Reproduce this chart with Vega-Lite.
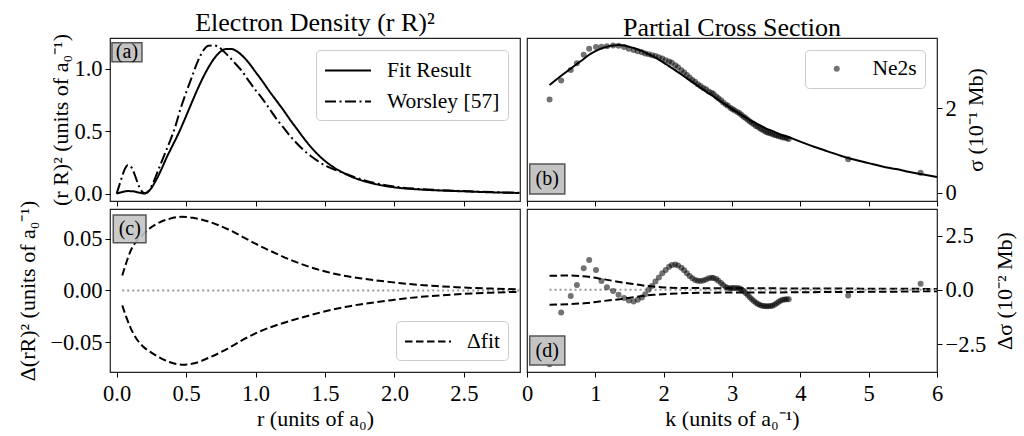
{
"$schema": "https://vega.github.io/schema/vega-lite/v6.json",
"padding": {"left": 16, "top": 9, "right": 5, "bottom": 0},
"background": "white",
"config": {
  "font": "Liberation Serif",
  "view": {"stroke": "#222222", "strokeWidth": 1.2},
  "axis": {"labelFont": "Liberation Serif", "titleFont": "Liberation Serif", "labelFontSize": 22.5, "titleFontSize": 22, "titleFontWeight": "normal", "labelColor": "black", "titleColor": "black", "tickColor": "black", "tickSize": 5, "tickWidth": 1, "domain": false, "grid": false, "labelPadding": 3, "labelFlush": false, "labelOverlap": false},
  "axisX": {"labelPadding": 5},
  "legend": {"labelFont": "Liberation Serif", "labelFontSize": 21.5, "labelColor": "black", "strokeColor": "#cccccc", "fillColor": "rgba(255,255,255,0.85)", "cornerRadius": 4, "padding": 8, "offset": 12, "symbolStrokeColor": "black", "symbolStrokeWidth": 2, "labelLimit": 300},
  "title": {"font": "Liberation Serif", "fontSize": 26, "fontWeight": "normal", "color": "black", "offset": -3},
  "text": {"font": "Liberation Serif"}
},
"datasets": {
  "dens": [
    {"r":0.00,"v":0.000,"s":"Fit Result"},{"r":0.04,"v":0.012,"s":"Fit Result"},{"r":0.08,"v":0.020,"s":"Fit Result"},{"r":0.12,"v":0.018,"s":"Fit Result"},{"r":0.16,"v":0.008,"s":"Fit Result"},{"r":0.20,"v":0.001,"s":"Fit Result"},{"r":0.24,"v":0.030,"s":"Fit Result"},{"r":0.28,"v":0.100,"s":"Fit Result"},{"r":0.32,"v":0.190,"s":"Fit Result"},{"r":0.36,"v":0.290,"s":"Fit Result"},{"r":0.40,"v":0.380,"s":"Fit Result"},{"r":0.44,"v":0.470,"s":"Fit Result"},{"r":0.48,"v":0.570,"s":"Fit Result"},{"r":0.52,"v":0.675,"s":"Fit Result"},{"r":0.56,"v":0.780,"s":"Fit Result"},{"r":0.60,"v":0.880,"s":"Fit Result"},{"r":0.65,"v":0.990,"s":"Fit Result"},{"r":0.70,"v":1.080,"s":"Fit Result"},{"r":0.75,"v":1.140,"s":"Fit Result"},{"r":0.78,"v":1.158,"s":"Fit Result"},{"r":0.82,"v":1.160,"s":"Fit Result"},{"r":0.86,"v":1.145,"s":"Fit Result"},{"r":0.90,"v":1.110,"s":"Fit Result"},{"r":0.95,"v":1.050,"s":"Fit Result"},{"r":1.00,"v":0.975,"s":"Fit Result"},{"r":1.05,"v":0.900,"s":"Fit Result"},{"r":1.10,"v":0.820,"s":"Fit Result"},{"r":1.15,"v":0.745,"s":"Fit Result"},{"r":1.20,"v":0.670,"s":"Fit Result"},{"r":1.25,"v":0.590,"s":"Fit Result"},{"r":1.30,"v":0.515,"s":"Fit Result"},{"r":1.35,"v":0.440,"s":"Fit Result"},{"r":1.40,"v":0.372,"s":"Fit Result"},{"r":1.45,"v":0.312,"s":"Fit Result"},{"r":1.50,"v":0.262,"s":"Fit Result"},{"r":1.55,"v":0.220,"s":"Fit Result"},{"r":1.60,"v":0.186,"s":"Fit Result"},{"r":1.65,"v":0.156,"s":"Fit Result"},{"r":1.70,"v":0.131,"s":"Fit Result"},{"r":1.78,"v":0.100,"s":"Fit Result"},{"r":1.90,"v":0.068,"s":"Fit Result"},{"r":2.00,"v":0.050,"s":"Fit Result"},{"r":2.14,"v":0.036,"s":"Fit Result"},{"r":2.30,"v":0.026,"s":"Fit Result"},{"r":2.50,"v":0.018,"s":"Fit Result"},{"r":2.70,"v":0.010,"s":"Fit Result"},{"r":2.90,"v":0.005,"s":"Fit Result"},
    {"r":0.00,"v":0.000,"s":"Worsley [57]"},{"r":0.02,"v":0.070,"s":"Worsley [57]"},{"r":0.04,"v":0.140,"s":"Worsley [57]"},{"r":0.06,"v":0.200,"s":"Worsley [57]"},{"r":0.08,"v":0.228,"s":"Worsley [57]"},{"r":0.10,"v":0.220,"s":"Worsley [57]"},{"r":0.12,"v":0.180,"s":"Worsley [57]"},{"r":0.14,"v":0.120,"s":"Worsley [57]"},{"r":0.16,"v":0.060,"s":"Worsley [57]"},{"r":0.18,"v":0.020,"s":"Worsley [57]"},{"r":0.20,"v":0.003,"s":"Worsley [57]"},{"r":0.22,"v":0.010,"s":"Worsley [57]"},{"r":0.26,"v":0.080,"s":"Worsley [57]"},{"r":0.30,"v":0.190,"s":"Worsley [57]"},{"r":0.34,"v":0.300,"s":"Worsley [57]"},{"r":0.38,"v":0.410,"s":"Worsley [57]"},{"r":0.42,"v":0.530,"s":"Worsley [57]"},{"r":0.46,"v":0.680,"s":"Worsley [57]"},{"r":0.50,"v":0.810,"s":"Worsley [57]"},{"r":0.54,"v":0.930,"s":"Worsley [57]"},{"r":0.58,"v":1.050,"s":"Worsley [57]"},{"r":0.62,"v":1.140,"s":"Worsley [57]"},{"r":0.66,"v":1.185,"s":"Worsley [57]"},{"r":0.70,"v":1.188,"s":"Worsley [57]"},{"r":0.74,"v":1.170,"s":"Worsley [57]"},{"r":0.78,"v":1.130,"s":"Worsley [57]"},{"r":0.82,"v":1.085,"s":"Worsley [57]"},{"r":0.86,"v":1.035,"s":"Worsley [57]"},{"r":0.90,"v":0.985,"s":"Worsley [57]"},{"r":0.95,"v":0.905,"s":"Worsley [57]"},{"r":1.00,"v":0.830,"s":"Worsley [57]"},{"r":1.05,"v":0.760,"s":"Worsley [57]"},{"r":1.10,"v":0.680,"s":"Worsley [57]"},{"r":1.15,"v":0.600,"s":"Worsley [57]"},{"r":1.20,"v":0.530,"s":"Worsley [57]"},{"r":1.25,"v":0.460,"s":"Worsley [57]"},{"r":1.30,"v":0.400,"s":"Worsley [57]"},{"r":1.35,"v":0.345,"s":"Worsley [57]"},{"r":1.40,"v":0.300,"s":"Worsley [57]"},{"r":1.45,"v":0.260,"s":"Worsley [57]"},{"r":1.50,"v":0.225,"s":"Worsley [57]"},{"r":1.55,"v":0.200,"s":"Worsley [57]"},{"r":1.60,"v":0.180,"s":"Worsley [57]"},{"r":1.65,"v":0.158,"s":"Worsley [57]"},{"r":1.70,"v":0.137,"s":"Worsley [57]"},{"r":1.78,"v":0.108,"s":"Worsley [57]"},{"r":1.90,"v":0.075,"s":"Worsley [57]"},{"r":2.00,"v":0.056,"s":"Worsley [57]"},{"r":2.14,"v":0.040,"s":"Worsley [57]"},{"r":2.30,"v":0.029,"s":"Worsley [57]"},{"r":2.50,"v":0.020,"s":"Worsley [57]"},{"r":2.70,"v":0.012,"s":"Worsley [57]"},{"r":2.90,"v":0.006,"s":"Worsley [57]"}
  ],
  "res": [
    {"r":0.04,"v":0.0144,"side":"u"},{"r":0.07,"v":0.027,"side":"u"},{"r":0.10,"v":0.038,"side":"u"},{"r":0.14,"v":0.047,"side":"u"},{"r":0.19,"v":0.054,"side":"u"},{"r":0.25,"v":0.061,"side":"u"},{"r":0.31,"v":0.0657,"side":"u"},{"r":0.38,"v":0.069,"side":"u"},{"r":0.47,"v":0.0710,"side":"u"},{"r":0.55,"v":0.070,"side":"u"},{"r":0.67,"v":0.066,"side":"u"},{"r":0.80,"v":0.059,"side":"u"},{"r":0.91,"v":0.0515,"side":"u"},{"r":1.03,"v":0.043,"side":"u"},{"r":1.15,"v":0.0355,"side":"u"},{"r":1.27,"v":0.0285,"side":"u"},{"r":1.39,"v":0.0226,"side":"u"},{"r":1.51,"v":0.018,"side":"u"},{"r":1.63,"v":0.0144,"side":"u"},{"r":1.75,"v":0.0118,"side":"u"},{"r":1.87,"v":0.0096,"side":"u"},{"r":2.00,"v":0.0077,"side":"u"},{"r":2.11,"v":0.0062,"side":"u"},{"r":2.30,"v":0.0043,"side":"u"},{"r":2.50,"v":0.0028,"side":"u"},{"r":2.70,"v":0.0018,"side":"u"},{"r":2.90,"v":0.0012,"side":"u"},
    {"r":0.04,"v":-0.0144,"side":"l"},{"r":0.07,"v":-0.026,"side":"l"},{"r":0.10,"v":-0.036,"side":"l"},{"r":0.14,"v":-0.046,"side":"l"},{"r":0.19,"v":-0.054,"side":"l"},{"r":0.25,"v":-0.060,"side":"l"},{"r":0.31,"v":-0.0648,"side":"l"},{"r":0.38,"v":-0.069,"side":"l"},{"r":0.47,"v":-0.0715,"side":"l"},{"r":0.55,"v":-0.0705,"side":"l"},{"r":0.67,"v":-0.0645,"side":"l"},{"r":0.80,"v":-0.056,"side":"l"},{"r":0.91,"v":-0.0475,"side":"l"},{"r":1.03,"v":-0.0395,"side":"l"},{"r":1.15,"v":-0.0335,"side":"l"},{"r":1.27,"v":-0.0285,"side":"l"},{"r":1.39,"v":-0.0240,"side":"l"},{"r":1.51,"v":-0.0198,"side":"l"},{"r":1.63,"v":-0.0163,"side":"l"},{"r":1.75,"v":-0.0135,"side":"l"},{"r":1.87,"v":-0.0112,"side":"l"},{"r":2.00,"v":-0.0090,"side":"l"},{"r":2.11,"v":-0.0072,"side":"l"},{"r":2.30,"v":-0.0050,"side":"l"},{"r":2.50,"v":-0.0033,"side":"l"},{"r":2.70,"v":-0.0021,"side":"l"},{"r":2.90,"v":-0.0013,"side":"l"}
  ],
  "fit": [
    {"k":0.33,"sigma":2.55},{"k":0.50,"sigma":2.77},{"k":0.64,"sigma":2.94},{"k":0.73,"sigma":3.05},{"k":0.83,"sigma":3.17},{"k":0.91,"sigma":3.27},{"k":1.01,"sigma":3.36},{"k":1.09,"sigma":3.42},{"k":1.17,"sigma":3.46},{"k":1.26,"sigma":3.49},{"k":1.34,"sigma":3.50},{"k":1.42,"sigma":3.49},{"k":1.49,"sigma":3.46},{"k":1.56,"sigma":3.43},{"k":1.68,"sigma":3.36},{"k":1.78,"sigma":3.28},{"k":1.88,"sigma":3.20},{"k":1.98,"sigma":3.10},{"k":2.08,"sigma":3.00},{"k":2.17,"sigma":2.90},{"k":2.26,"sigma":2.80},{"k":2.34,"sigma":2.71},{"k":2.42,"sigma":2.62},{"k":2.50,"sigma":2.53},{"k":2.58,"sigma":2.44},{"k":2.66,"sigma":2.35},{"k":2.73,"sigma":2.28},{"k":2.80,"sigma":2.20},{"k":2.87,"sigma":2.12},{"k":2.94,"sigma":2.05},{"k":3.01,"sigma":1.97},{"k":3.08,"sigma":1.90},{"k":3.14,"sigma":1.84},{"k":3.20,"sigma":1.78},{"k":3.26,"sigma":1.72},{"k":3.32,"sigma":1.67},{"k":3.38,"sigma":1.62},{"k":3.44,"sigma":1.57},{"k":3.50,"sigma":1.52},{"k":3.56,"sigma":1.48},{"k":3.62,"sigma":1.44},{"k":3.68,"sigma":1.40},{"k":3.74,"sigma":1.36},{"k":3.80,"sigma":1.33},{"k":4.00,"sigma":1.21},{"k":4.20,"sigma":1.09},{"k":4.40,"sigma":0.98},{"k":4.60,"sigma":0.87},{"k":4.80,"sigma":0.78},{"k":5.00,"sigma":0.70},{"k":5.20,"sigma":0.62},{"k":5.40,"sigma":0.56},{"k":5.60,"sigma":0.49},{"k":5.80,"sigma":0.43},{"k":6.00,"sigma":0.37}
  ],
  "ne": [
    {"k":0.33,"sigma":2.21,"delta":-3.43},{"k":0.50,"sigma":2.66,"delta":-1.05},{"k":0.64,"sigma":2.91,"delta":-0.28},{"k":0.73,"sigma":3.07,"delta":0.22},{"k":0.83,"sigma":3.27,"delta":1.00},{"k":0.91,"sigma":3.41,"delta":1.38},{"k":1.01,"sigma":3.45,"delta":0.92},{"k":1.09,"sigma":3.46,"delta":0.41},{"k":1.17,"sigma":3.47,"delta":0.12},{"k":1.26,"sigma":3.49,"delta":-0.05},{"k":1.34,"sigma":3.48,"delta":-0.23},{"k":1.42,"sigma":3.45,"delta":-0.38},{"k":1.49,"sigma":3.41,"delta":-0.49},{"k":1.56,"sigma":3.38,"delta":-0.54},{"k":1.62,"sigma":3.35,"delta":-0.46},{"k":1.68,"sigma":3.33,"delta":-0.35},{"k":1.73,"sigma":3.30,"delta":-0.20},{"k":1.78,"sigma":3.28,"delta":0.00},{"k":1.83,"sigma":3.26,"delta":0.18},{"k":1.88,"sigma":3.24,"delta":0.38},{"k":1.93,"sigma":3.21,"delta":0.57},{"k":1.98,"sigma":3.18,"delta":0.77},{"k":2.03,"sigma":3.14,"delta":0.92},{"k":2.08,"sigma":3.11,"delta":1.06},{"k":2.12,"sigma":3.08,"delta":1.15},{"k":2.17,"sigma":3.02,"delta":1.17},{"k":2.21,"sigma":2.97,"delta":1.12},{"k":2.26,"sigma":2.90,"delta":1.02},{"k":2.30,"sigma":2.85,"delta":0.90},{"k":2.34,"sigma":2.79,"delta":0.77},{"k":2.38,"sigma":2.73,"delta":0.64},{"k":2.42,"sigma":2.67,"delta":0.53},{"k":2.46,"sigma":2.63,"delta":0.46},{"k":2.50,"sigma":2.57,"delta":0.42},{"k":2.54,"sigma":2.53,"delta":0.41},{"k":2.58,"sigma":2.48,"delta":0.43},{"k":2.62,"sigma":2.45,"delta":0.48},{"k":2.66,"sigma":2.40,"delta":0.53},{"k":2.70,"sigma":2.37,"delta":0.56},{"k":2.73,"sigma":2.34,"delta":0.55},{"k":2.77,"sigma":2.28,"delta":0.50},{"k":2.80,"sigma":2.24,"delta":0.42},{"k":2.84,"sigma":2.19,"delta":0.32},{"k":2.87,"sigma":2.14,"delta":0.22},{"k":2.91,"sigma":2.09,"delta":0.13},{"k":2.94,"sigma":2.06,"delta":0.08},{"k":2.98,"sigma":2.01,"delta":0.07},{"k":3.01,"sigma":1.98,"delta":0.08},{"k":3.04,"sigma":1.95,"delta":0.09},{"k":3.08,"sigma":1.91,"delta":0.08},{"k":3.11,"sigma":1.88,"delta":0.06},{"k":3.14,"sigma":1.84,"delta":0.02},{"k":3.17,"sigma":1.80,"delta":-0.05},{"k":3.20,"sigma":1.77,"delta":-0.14},{"k":3.23,"sigma":1.73,"delta":-0.24},{"k":3.26,"sigma":1.69,"delta":-0.34},{"k":3.29,"sigma":1.66,"delta":-0.43},{"k":3.32,"sigma":1.62,"delta":-0.52},{"k":3.35,"sigma":1.58,"delta":-0.59},{"k":3.38,"sigma":1.56,"delta":-0.65},{"k":3.41,"sigma":1.52,"delta":-0.70},{"k":3.44,"sigma":1.50,"delta":-0.73},{"k":3.47,"sigma":1.47,"delta":-0.75},{"k":3.50,"sigma":1.44,"delta":-0.76},{"k":3.53,"sigma":1.42,"delta":-0.76},{"k":3.56,"sigma":1.41,"delta":-0.75},{"k":3.59,"sigma":1.39,"delta":-0.73},{"k":3.62,"sigma":1.37,"delta":-0.69},{"k":3.65,"sigma":1.36,"delta":-0.63},{"k":3.68,"sigma":1.34,"delta":-0.56},{"k":3.71,"sigma":1.33,"delta":-0.50},{"k":3.74,"sigma":1.31,"delta":-0.46},{"k":3.77,"sigma":1.31,"delta":-0.44},{"k":3.80,"sigma":1.29,"delta":-0.43},{"k":3.83,"sigma":1.27,"delta":-0.43},{"k":4.70,"sigma":0.79,"delta":-0.26},{"k":5.76,"sigma":0.47,"delta":0.28}
  ],
  "env": [
    {"k":0.33,"d":0.65,"side":"u"},{"k":0.60,"d":0.66,"side":"u"},{"k":0.80,"d":0.63,"side":"u"},{"k":0.95,"d":0.58,"side":"u"},{"k":1.10,"d":0.50,"side":"u"},{"k":1.25,"d":0.42,"side":"u"},{"k":1.40,"d":0.34,"side":"u"},{"k":1.55,"d":0.27,"side":"u"},{"k":1.70,"d":0.20,"side":"u"},{"k":1.85,"d":0.15,"side":"u"},{"k":2.00,"d":0.11,"side":"u"},{"k":2.20,"d":0.09,"side":"u"},{"k":2.50,"d":0.08,"side":"u"},{"k":3.00,"d":0.075,"side":"u"},{"k":3.50,"d":0.07,"side":"u"},{"k":4.00,"d":0.065,"side":"u"},{"k":4.50,"d":0.06,"side":"u"},{"k":5.00,"d":0.055,"side":"u"},{"k":5.50,"d":0.05,"side":"u"},{"k":6.00,"d":0.04,"side":"u"},
    {"k":0.33,"d":-0.69,"side":"l"},{"k":0.60,"d":-0.66,"side":"l"},{"k":0.87,"d":-0.61,"side":"l"},{"k":1.10,"d":-0.52,"side":"l"},{"k":1.36,"d":-0.43,"side":"l"},{"k":1.60,"d":-0.32,"side":"l"},{"k":1.85,"d":-0.23,"side":"l"},{"k":2.10,"d":-0.18,"side":"l"},{"k":2.34,"d":-0.15,"side":"l"},{"k":2.70,"d":-0.13,"side":"l"},{"k":3.07,"d":-0.12,"side":"l"},{"k":3.50,"d":-0.12,"side":"l"},{"k":4.00,"d":-0.11,"side":"l"},{"k":4.50,"d":-0.10,"side":"l"},{"k":5.00,"d":-0.09,"side":"l"},{"k":5.50,"d":-0.08,"side":"l"},{"k":6.00,"d":-0.06,"side":"l"}
  ]
},
"columns": 2,
"spacing": {"row": 8, "column": 7},
"bounds": "flush",
"resolve": {"scale": {"strokeDash": "independent", "shape": "independent"}},
"concat": [
  {
    "width": 410, "height": 163,
    "title": {"text": "Electron Density (r R)²"},
    "layer": [
      {"data": {"name": "dens"},
       "mark": {"type": "line", "color": "black", "strokeWidth": 2, "interpolate": "monotone"},
       "encoding": {
         "x": {"field": "r", "type": "quantitative", "scale": {"domain": [-0.048, 2.904], "nice": false, "zero": false}, "axis": {"values": [0, 0.5, 1, 1.5, 2, 2.5], "labels": false, "title": null}},
         "y": {"field": "v", "type": "quantitative", "scale": {"domain": [-0.0594, 1.2474], "nice": false, "zero": false}, "axis": {"values": [0, 0.5, 1], "format": ".1f", "title": "(r R)² (units of a₀⁻¹)", "titlePadding": 1}},
         "strokeDash": {"field": "s", "type": "nominal", "scale": {"domain": ["Fit Result", "Worsley [57]"], "range": [[1, 0], [11, 3.5, 2, 3.5]]}, "legend": {"title": null, "orient": "top-right", "symbolType": "M-1,0H3", "symbolSize": 529, "labelOffset": 38, "rowPadding": 8}}
       }},
      {"data": {"values": [{"tag": "(a)"}]},
       "mark": {"type": "rect", "fill": "#c4c4c4", "stroke": "#555555", "strokeWidth": 1.5},
       "encoding": {"x": {"datum": -0.034}, "x2": {"datum": 0.182}, "y": {"datum": 1.209}, "y2": {"datum": 1.056}}},
      {"data": {"values": [{"tag": "(a)"}]},
       "mark": {"type": "text", "fontSize": 20, "color": "black", "align": "center", "baseline": "middle"},
       "encoding": {"x": {"datum": 0.074}, "y": {"datum": 1.133}, "text": {"field": "tag"}}}
    ]
  },
  {
    "width": 410, "height": 163,
    "title": {"text": "Partial Cross Section"},
    "layer": [
      {"data": {"name": "ne"},
       "mark": {"type": "point", "filled": true, "size": 36, "color": "black", "opacity": 0.55},
       "encoding": {
         "x": {"field": "k", "type": "quantitative", "scale": {"domain": [0, 6], "nice": false, "zero": false}, "axis": {"values": [0, 1, 2, 3, 4, 5, 6], "labels": false, "title": null}},
         "y": {"field": "sigma", "type": "quantitative", "scale": {"domain": [-0.197, 3.666], "nice": false, "zero": false}, "axis": {"orient": "right", "values": [0, 2], "format": "d", "title": "σ (10⁻¹ Mb)", "titleAngle": 270, "titleBaseline": "top", "titlePadding": 9}},
         "shape": {"datum": "Ne2s", "type": "nominal", "scale": {"range": ["circle"]}, "legend": {"title": null, "orient": "top-right", "symbolSize": 36, "symbolFillColor": "black", "symbolOpacity": 0.55, "symbolStrokeWidth": 0, "symbolOffset": 13, "labelOffset": 25}}
       }},
      {"data": {"name": "fit"},
       "mark": {"type": "line", "color": "black", "strokeWidth": 2, "interpolate": "monotone"},
       "encoding": {"x": {"field": "k", "type": "quantitative"}, "y": {"field": "sigma", "type": "quantitative"}}},
      {"data": {"values": [{"tag": "(b)"}]},
       "mark": {"type": "rect", "fill": "#c4c4c4", "stroke": "#555555", "strokeWidth": 1.5},
       "encoding": {"x": {"datum": 0.04}, "x2": {"datum": 0.553}, "y": {"datum": 0.68}, "y2": {"datum": -0.031}}},
      {"data": {"values": [{"tag": "(b)"}]},
       "mark": {"type": "text", "fontSize": 20, "color": "black", "align": "center", "baseline": "middle"},
       "encoding": {"x": {"datum": 0.296}, "y": {"datum": 0.325}, "text": {"field": "tag"}}}
    ]
  },
  {
    "width": 410, "height": 163,
    "layer": [
      {"data": {"values": [{}]},
       "mark": {"type": "rule", "color": "#999999", "strokeWidth": 2, "strokeDash": [2, 3]},
       "encoding": {"x": {"datum": 0.04}, "x2": {"datum": 2.904}, "y": {"datum": 0}}},
      {"data": {"name": "res"},
       "mark": {"type": "line", "color": "black", "strokeWidth": 2, "interpolate": "monotone"},
       "encoding": {
         "x": {"field": "r", "type": "quantitative", "scale": {"domain": [-0.048, 2.904], "nice": false, "zero": false}, "axis": {"values": [0, 0.5, 1, 1.5, 2, 2.5], "format": ".1f", "title": "r (units of a₀)", "titlePadding": 4}},
         "y": {"field": "v", "type": "quantitative", "scale": {"domain": [-0.0786, 0.0785], "nice": false, "zero": false}, "axis": {"values": [-0.05, 0, 0.05], "format": ".2f", "title": "Δ(rR)² (units of a₀⁻¹)", "titlePadding": 10}},
         "detail": {"field": "side", "type": "nominal"},
         "strokeDash": {"datum": "Δfit", "type": "nominal", "scale": {"range": [[7.5, 3.5]]}, "legend": {"title": null, "orient": "bottom-right", "symbolType": "M-1,0H3", "symbolSize": 529, "labelOffset": 38}}
       }},
      {"data": {"values": [{"tag": "(c)"}]},
       "mark": {"type": "rect", "fill": "#c4c4c4", "fillOpacity": 0.9, "stroke": "#555555", "strokeWidth": 1.5},
       "encoding": {"x": {"datum": -0.0245}, "x2": {"datum": 0.211}, "y": {"datum": 0.0728}, "y2": {"datum": 0.0459}}},
      {"data": {"values": [{"tag": "(c)"}]},
       "mark": {"type": "text", "fontSize": 20, "color": "black", "align": "center", "baseline": "middle"},
       "encoding": {"x": {"datum": 0.094}, "y": {"datum": 0.0593}, "text": {"field": "tag"}}}
    ]
  },
  {
    "width": 410, "height": 163,
    "layer": [
      {"data": {"name": "env"},
       "mark": {"type": "line", "color": "black", "strokeWidth": 2, "strokeDash": [7.5, 3.5], "interpolate": "monotone"},
       "encoding": {
         "x": {"field": "k", "type": "quantitative", "scale": {"domain": [0, 6], "nice": false, "zero": false}, "axis": {"values": [0, 1, 2, 3, 4, 5, 6], "format": "d", "title": "k (units of a₀⁻¹)", "titlePadding": 4}},
         "y": {"field": "d", "type": "quantitative", "scale": {"domain": [-3.79, 3.73], "nice": false, "zero": false}, "axis": {"orient": "right", "values": [-2.5, 0, 2.5], "format": ".1f", "title": "Δσ (10⁻² Mb)", "titleAngle": 270, "titleBaseline": "top", "titlePadding": 9}},
         "detail": {"field": "side", "type": "nominal"}
       }},
      {"data": {"values": [{}]},
       "mark": {"type": "rule", "color": "#999999", "strokeWidth": 2, "strokeDash": [2, 3]},
       "encoding": {"x": {"datum": 0.33}, "x2": {"datum": 6}, "y": {"datum": 0}}},
      {"data": {"name": "ne"},
       "mark": {"type": "point", "filled": true, "size": 36, "color": "black", "opacity": 0.55},
       "encoding": {"x": {"field": "k", "type": "quantitative"}, "y": {"field": "delta", "type": "quantitative"}}},
      {"data": {"values": [{"tag": "(d)"}]},
       "mark": {"type": "rect", "fill": "#c4c4c4", "stroke": "#555555", "strokeWidth": 1.5},
       "encoding": {"x": {"datum": 0.04}, "x2": {"datum": 0.553}, "y": {"datum": -2.13}, "y2": {"datum": -3.47}}},
      {"data": {"values": [{"tag": "(d)"}]},
       "mark": {"type": "text", "fontSize": 20, "color": "black", "align": "center", "baseline": "middle"},
       "encoding": {"x": {"datum": 0.296}, "y": {"datum": -2.8}, "text": {"field": "tag"}}}
    ]
  }
]
}
